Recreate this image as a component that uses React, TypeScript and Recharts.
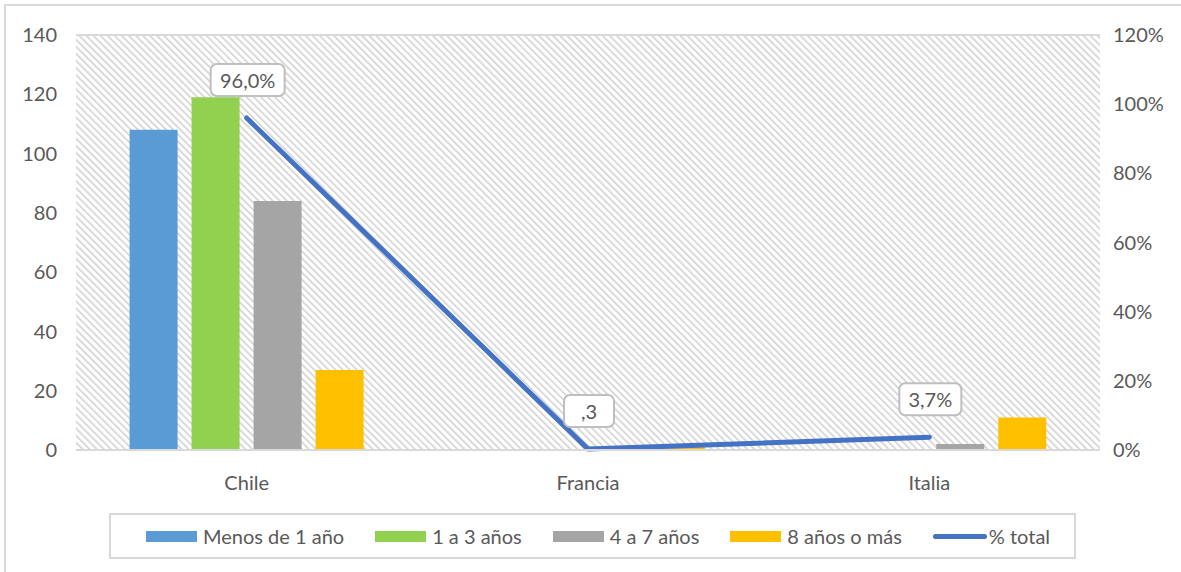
import React from 'react';
import {
  ComposedChart,
  Bar,
  Line,
  XAxis,
  YAxis,
  CartesianGrid,
  LabelList
} from 'recharts';

const categories = ['Chile', 'Francia', 'Italia'];
const menosDe1 = [108, 0, 0];
const de1a3 = [119, 0, 0];
const de4a7 = [84, 0, 2];
const ochoOMas = [27, 1, 11];
const pctTotal = [0.96, 0.003, 0.037];
const pctLabels = ['96,0%', ',3', '3,7%'];
const leftTicks = [0, 20, 40, 60, 80, 100, 120, 140];
const rightTicks = [0, 0.2, 0.4, 0.6, 0.8, 1.0, 1.2];

const data = categories.map((name, i) => ({
  name,
  menos: menosDe1[i],
  uno: de1a3[i],
  cuatro: de4a7[i],
  ocho: ochoOMas[i],
  pct: pctTotal[i],
  label: pctLabels[i]
}));

const FONT = 'Lato, "Open Sans", sans-serif';
const TEXT = '#595959';
const GRID = '#d9d9d9';

const legendItems = [
  { name: 'Menos de 1 año', color: '#5B9BD5', line: false },
  { name: '1 a 3 años', color: '#92D050', line: false },
  { name: '4 a 7 años', color: '#A5A5A5', line: false },
  { name: '8 años o más', color: '#FFC000', line: false },
  { name: '% total', color: '#4472C4', line: true }
];

// callout box above each line point
const CalloutLabel = (props: any) => {
  const { x, y, value } = props;
  const text = String(value);
  const w = Math.max(50, text.length * 12 + 14);
  const h = 32;
  const cx = x + 1;
  const cy = y - 38;
  return (
    <g>
      <rect
        x={cx - w / 2}
        y={cy - h / 2}
        width={w}
        height={h}
        rx={6}
        ry={6}
        fill="#ffffff"
        stroke="#bfbfbf"
        strokeWidth={2}
      />
      <text
        x={cx}
        y={cy}
        textAnchor="middle"
        dominantBaseline="central"
        fill={TEXT}
        fontSize={20}
        fontFamily={FONT}
      >
        {text}
      </text>
    </g>
  );
};

const App: React.FC = () => {
  return (
    <div style={{ position: 'absolute', left: 0, top: 0, width: 1181, height: 572, background: '#fff', overflow: 'hidden' }}>
      {/* chart border */}
      <div
        style={{
          position: 'absolute',
          left: 4,
          top: 4,
          width: 1200,
          height: 600,
          border: '2px solid #d9d9d9',
          boxSizing: 'border-box'
        }}
      />
      <div style={{ position: 'absolute', left: 0, top: 0 }}>
        <ComposedChart
          width={1181}
          height={572}
          data={data}
          margin={{ top: 35, right: 0, left: 0, bottom: 82 }}
          barCategoryGap="15.7%"
          barGap={14}
        >
          <defs>
            <pattern
              id="hatch"
              patternUnits="userSpaceOnUse"
              width={5}
              height={5}
              patternTransform="rotate(-45)"
            >
              <rect width={5} height={5} fill="#ffffff" />
              <line x1={0} y1={0} x2={0} y2={5} stroke="#cfcfcf" strokeWidth={3} />
            </pattern>
          </defs>
          <CartesianGrid vertical={false} stroke={GRID} strokeWidth={2} fill="url(#hatch)" />
          <XAxis
            dataKey="name"
            tickLine={false}
            axisLine={{ stroke: GRID, strokeWidth: 2 }}
            tickMargin={20}
            height={40}
            tick={{ fill: TEXT, fontSize: 20, fontFamily: FONT }}
          />
          <YAxis
            yAxisId="left"
            domain={[0, 140]}
            ticks={leftTicks}
            width={76}
            tickLine={false}
            axisLine={false}
            tickMargin={13}
            tick={{ fill: TEXT, fontSize: 20, fontFamily: FONT }}
          />
          <YAxis
            yAxisId="right"
            orientation="right"
            domain={[0, 1.2]}
            ticks={rightTicks}
            width={81}
            tickLine={false}
            axisLine={false}
            tickMargin={7}
            tickFormatter={(v: number) => `${Math.round(v * 100)}%`}
            tick={{ fill: TEXT, fontSize: 20, fontFamily: FONT, textAnchor: 'start' }}
          />
          <Bar yAxisId="left" dataKey="menos" fill="#5B9BD5" isAnimationActive={false} />
          <Bar yAxisId="left" dataKey="uno" fill="#92D050" isAnimationActive={false} />
          <Bar yAxisId="left" dataKey="cuatro" fill="#A5A5A5" isAnimationActive={false} />
          <Bar yAxisId="left" dataKey="ocho" fill="#FFC000" isAnimationActive={false} />
          <Line
            yAxisId="right"
            dataKey="pct"
            type="linear"
            stroke="#4472C4"
            strokeWidth={5}
            strokeLinejoin="round"
            strokeLinecap="round"
            dot={false}
            activeDot={false}
            isAnimationActive={false}
          >
            <LabelList dataKey="label" content={<CalloutLabel />} />
          </Line>
        </ComposedChart>
      </div>
      {/* Legend */}
      <div
        style={{
          position: 'absolute',
          left: 109,
          top: 513,
          width: 967,
          height: 46,
          border: '2px solid #d9d9d9',
          boxSizing: 'border-box',
          display: 'flex',
          alignItems: 'center',
          paddingLeft: 35,
          fontFamily: FONT,
          fontSize: 20,
          color: TEXT
        }}
      >
        {legendItems.map((item, i) => (
          <div key={item.name} style={{ display: 'flex', alignItems: 'center', marginRight: i < legendItems.length - 1 ? 31 : 0 }}>
            <span
              style={{
                display: 'inline-block',
                width: item.line ? 54 : 51,
                height: item.line ? 5 : 11,
                borderRadius: item.line ? 3 : 0,
                background: item.color,
                marginRight: item.line ? 2 : 6
              }}
            />
            <span>{item.name}</span>
          </div>
        ))}
      </div>
    </div>
  );
};

export default App;
